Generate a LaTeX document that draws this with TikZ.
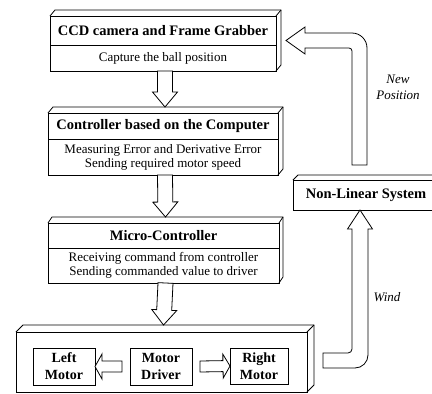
\documentclass[tikz,border=0pt]{standalone}
\usepackage{fontspec}
\setmainfont{Liberation Serif}
\usetikzlibrary{positioning,calc}

\tikzset{
	box/.style={
		draw,
		line width=0.8pt,
		fill=white,
		outer sep=0pt,
		inner sep=0pt,
	},
	face/.style={
		draw,
		line width=0.8pt,
		line join=miter,
	},
	hollow/.style={
		draw,
		line width=0.8pt,
		fill=white,
		line join=miter,
	},
}

% side and top faces of a block, #1 upper node, #2 lower node
\newcommand{\solidfaces}[4]{%
	\draw [face] (#1.north west) -- ++(#3,-#4) -- ($(#1.north east)+(#3,-#4)$)
		-- ($(#2.south east)+(#3,-#4)$) -- (#2.south east);
	\draw [face] (#1.north east) -- ++(#3,-#4);
}
% straight hollow arrow from #1 to #2, shaft/head half widths #3/#4, head length #5
\newcommand{\blockarrow}[5]{%
	\draw [hollow] ($(#1)!#3!90:(#2)$) -- ($(#2)!#5!(#1)!#3!90:(#2)$)
		-- ($(#2)!#5!(#1)!#4!90:(#2)$) -- (#2)
		-- ($(#2)!#5!(#1)!#4!-90:(#2)$) -- ($(#2)!#5!(#1)!#3!-90:(#2)$)
		-- ($(#1)!#3!-90:(#2)$) -- cycle;
}

\begin{document}
\begin{tikzpicture}[
		x=1pt, y=-1pt,
		title/.style={
			box,
			font=\fontsize{14.5}{16}\selectfont\bfseries,
		},
		body/.style={
			box,
			align=center,
			font=\fontsize{13}{14}\selectfont,
		},
		motor/.style={
			box,
			align=center,
			font=\fontsize{14}{17}\selectfont\bfseries,
		},
		lbl/.style={
			align=center,
			font=\fontsize{13}{16}\selectfont\itshape,
		},
	]
	\useasboundingbox (0,0) rectangle (432,394);
	\clip (0,0) rectangle (432,394);

	\node [title, minimum width=226pt, minimum height=29pt] (ccd) at (163,30.5)
		{CCD camera and Frame Grabber};
	\node [body, minimum width=226pt, minimum height=26pt, below=0pt of ccd] (ccdb)
		{Capture the ball position};

	\node [title, minimum width=230pt, minimum height=26pt] (ctrl) at (163,126)
		{Controller based on the Computer};
	\node [body, minimum width=230pt, minimum height=36pt, below=0pt of ctrl] (ctrlb)
		{Measuring Error and Derivative Error\\Sending required motor speed};

	\node [title, minimum width=231pt, minimum height=25pt] (micro) at (163.5,235.5)
		{Micro-Controller};
	\node [body, minimum width=231pt, minimum height=35pt, below=0pt of micro] (microb)
		{Receiving command from controller\\Sending commanded value to driver};

	\node [box, minimum width=291pt, minimum height=60pt] (drive) at (161.5,362) {};
	\node [motor, minimum width=62pt, minimum height=37pt] (lmotor) at (64,366.5) {Left\\Motor};
	\node [motor, minimum width=62pt, minimum height=37pt] (driver) at (161,366.5) {Motor\\Driver};
	\node [motor, minimum width=58pt, minimum height=36pt] (rmotor) at (259,366) {Right\\Motor};

	\node [title, minimum width=146pt, minimum height=30pt] (nls) at (366,195) {Non-Linear System};

	\solidfaces{ccd}{ccdb}{5}{6}
	\solidfaces{ctrl}{ctrlb}{5}{6}
	\solidfaces{micro}{microb}{4}{6}
	\solidfaces{drive}{drive}{7}{7}
	\solidfaces{nls}{nls}{5}{5}

	\coordinate (ccdout) at ([xshift=2pt]ccdb.south);
	\coordinate (ctrltop) at ([xshift=2pt, yshift=6pt]ctrl.north);
	\coordinate (ctrlout) at ([xshift=2pt]ctrlb.south);
	\coordinate (microtop) at ([xshift=2pt, yshift=6pt]micro.north);
	\coordinate (microout) at ([xshift=2pt]microb.south);
	\coordinate (drivetop) at ([xshift=2pt, yshift=7pt]drive.north);
	\coordinate (drvl) at ([xshift=-8pt]driver.west);
	\coordinate (drvr) at ([xshift=8pt]driver.east);

	\blockarrow{ccdout}{ctrltop}{7.5pt}{12.5pt}{15pt}
	\blockarrow{ctrlout}{microtop}{7.5pt}{12.5pt}{15pt}
	\blockarrow{microout}{drivetop}{7.5pt}{12.5pt}{15pt}
	\blockarrow{drvl}{lmotor.east}{5.5pt}{12.5pt}{7pt}
	\blockarrow{drvr}{rmotor.west}{5.5pt}{12pt}{7pt}

	% wind into the system
	\coordinate (windin) at (323,360.5);
	\coordinate (windtip) at ([xshift=-6pt]nls.south);
	\draw [hollow] ($(windin)+(15,-7.5)$) [rounded corners=4pt]
		-- ($(windin -| windtip)+(-8,-7.5)$) -- ($(windtip)+(-8,70)$) [sharp corners]
		-- ($(windtip)+(-8,19)$) -- ($(windtip)+(-12.5,19)$) -- (windtip)
		-- ($(windtip)+(12.5,19)$) -- ($(windtip)+(8,19)$)
		-- ($(windtip)+(8,70)$) [rounded corners=13pt]
		-- ($(windin -| windtip)+(8,7.5)$) -- ($(windin)+(15,7.5)$) [sharp corners]
		-- ($(windin)+(0,7.5)$) -- ($(windin)+(0,-7.5)$) -- cycle;
	\node [lbl] (wind) at (387,297) {Wind};

	% new position back to the camera
	\coordinate (npfoot) at (359.5,165);
	\coordinate (nptip) at (286,40.5);
	\draw [hollow] ($(npfoot)+(-7.5,-60)$) [rounded corners=3pt]
		-- ($(npfoot |- nptip)+(-7.5,7.5)$) -- ($(nptip)+(45,7.5)$) [sharp corners]
		-- ($(nptip)+(19,7.5)$) -- ($(nptip)+(19,13.5)$) -- (nptip)
		-- ($(nptip)+(19,-13.5)$) -- ($(nptip)+(19,-7.5)$)
		-- ($(nptip)+(45,-7.5)$) [rounded corners=15pt]
		-- ($(npfoot |- nptip)+(7.5,-7.5)$) -- ($(npfoot)+(7.5,-60)$) [sharp corners]
		-- ($(npfoot)+(7.5,0)$) -- ($(npfoot)+(-7.5,0)$) -- cycle;
	\node [lbl] (newpos) at (398,87) {New\\Position};

\end{tikzpicture}
\end{document}
